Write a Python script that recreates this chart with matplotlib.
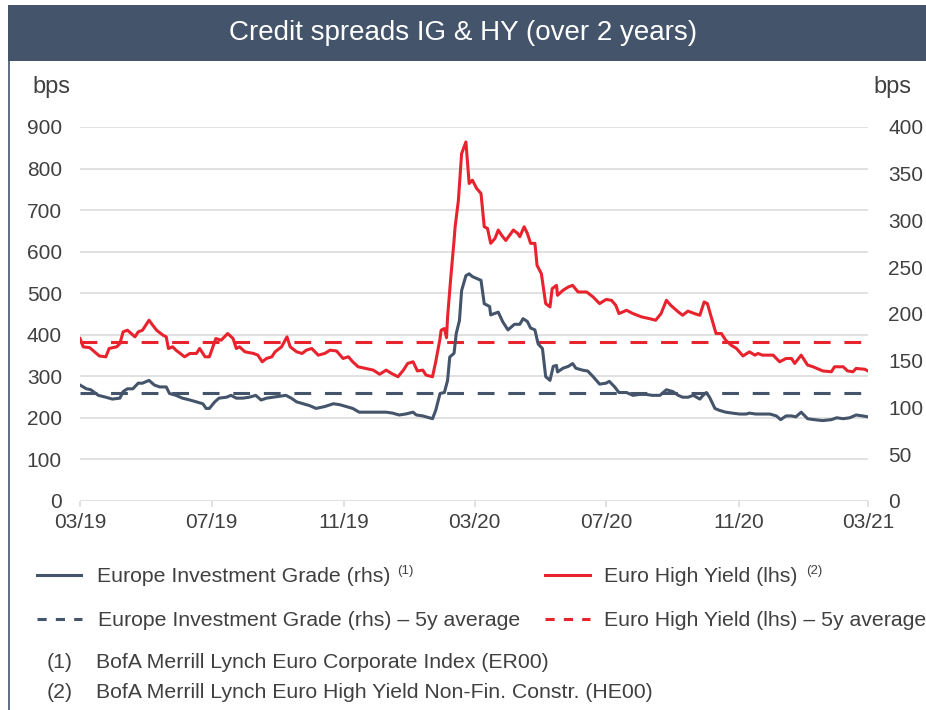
import matplotlib
matplotlib.use("Agg")
import matplotlib.pyplot as plt
from matplotlib.lines import Line2D
from matplotlib.patches import Rectangle
import pandas as pd

# ---------------- data ----------------
hy_dates = ["2019-03-01","2019-03-04","2019-03-10","2019-03-19","2019-03-25","2019-03-28","2019-04-04","2019-04-07",
            "2019-04-10","2019-04-14","2019-04-21","2019-04-24","2019-04-28","2019-05-04","2019-05-11","2019-05-17",
            "2019-05-20","2019-05-22","2019-05-26","2019-05-29","2019-06-06","2019-06-11","2019-06-17","2019-06-20",
            "2019-06-25","2019-06-29","2019-07-05","2019-07-10","2019-07-16","2019-07-21","2019-07-24","2019-07-27",
            "2019-08-01","2019-08-09","2019-08-13","2019-08-17","2019-08-21","2019-08-26","2019-08-29","2019-09-04",
            "2019-09-09","2019-09-12","2019-09-18","2019-09-23","2019-09-27","2019-10-02","2019-10-08","2019-10-14",
            "2019-10-19","2019-10-25","2019-10-31","2019-11-05","2019-11-09","2019-11-14","2019-11-21","2019-11-28",
            "2019-12-04","2019-12-10","2019-12-15","2019-12-21","2019-12-26","2019-12-30","2020-01-04","2020-01-08",
            "2020-01-13","2020-01-16","2020-01-22","2020-01-25","2020-01-29","2020-01-30","2020-02-02","2020-02-04",
            "2020-02-05","2020-02-08","2020-02-11","2020-02-12","2020-02-15","2020-02-18","2020-02-22","2020-02-25",
            "2020-02-28","2020-03-03","2020-03-07","2020-03-10","2020-03-13","2020-03-16","2020-03-20","2020-03-23",
            "2020-03-26","2020-03-30","2020-04-06","2020-04-10","2020-04-12","2020-04-16","2020-04-19","2020-04-22",
            "2020-04-26","2020-04-28","2020-05-02","2020-05-06","2020-05-10","2020-05-12","2020-05-16","2020-05-17",
            "2020-05-22","2020-05-27","2020-05-31","2020-06-05","2020-06-13","2020-06-19","2020-06-25","2020-07-01",
            "2020-07-06","2020-07-10","2020-07-13","2020-07-20","2020-07-26","2020-08-03","2020-08-10","2020-08-16",
            "2020-08-21","2020-08-26","2020-08-30","2020-09-06","2020-09-10","2020-09-15","2020-09-21","2020-09-26",
            "2020-09-30","2020-10-03","2020-10-07","2020-10-11","2020-10-16","2020-10-20","2020-10-25","2020-10-30",
            "2020-11-05","2020-11-11","2020-11-16","2020-11-19","2020-11-23","2020-12-03","2020-12-09","2020-12-15",
            "2020-12-20","2020-12-23","2020-12-29","2021-01-04","2021-01-09","2021-01-18","2021-01-26","2021-01-29",
            "2021-02-06","2021-02-10","2021-02-15","2021-02-18","2021-02-26","2021-03-01"]
hy_values = [391,371,369,349,347,367,371,379,
             407,411,395,407,411,435,411,399,
             395,367,371,363,347,355,355,367,
             347,347,391,387,403,391,367,371,
             359,355,351,335,343,347,359,371,
             395,371,359,355,363,367,351,355,
             363,361,343,347,335,323,319,315,
             305,315,307,299,315,331,335,313,
             315,303,299,335,391,411,415,393,
             443,539,627,660,723,836,864,764,
             772,752,740,660,656,620,632,652,
             640,627,652,644,636,660,644,620,
             620,567,547,475,467,511,519,495,
             507,515,519,503,503,491,475,485,
             483,471,451,459,451,443,439,435,
             451,483,471,455,447,457,451,447,
             479,475,439,403,403,387,375,367,
             349,359,351,355,351,351,335,343,
             343,331,351,327,323,313,311,323,
             323,313,311,319,317,313]

ig_dates = ["2019-03-01","2019-03-07","2019-03-11","2019-03-18","2019-03-25","2019-03-31","2019-04-07","2019-04-10",
            "2019-04-14","2019-04-19","2019-04-24","2019-04-28","2019-05-04","2019-05-09","2019-05-14","2019-05-20",
            "2019-05-23","2019-05-29","2019-06-04","2019-06-11","2019-06-17","2019-06-23","2019-06-26","2019-06-29",
            "2019-07-04","2019-07-08","2019-07-15","2019-07-19","2019-07-24","2019-07-30","2019-08-05","2019-08-11",
            "2019-08-16","2019-08-21","2019-08-27","2019-09-02","2019-09-08","2019-09-13","2019-09-18","2019-09-24",
            "2019-09-30","2019-10-06","2019-10-14","2019-10-22","2019-10-28","2019-11-03","2019-11-09","2019-11-15",
            "2019-11-21","2019-11-28","2019-12-04","2019-12-10","2019-12-16","2019-12-22","2019-12-28","2020-01-04",
            "2020-01-07","2020-01-13","2020-01-22","2020-01-25","2020-01-29","2020-02-02","2020-02-05","2020-02-07",
            "2020-02-11","2020-02-13","2020-02-16","2020-02-18","2020-02-22","2020-02-25","2020-02-28","2020-03-07",
            "2020-03-10","2020-03-15","2020-03-16","2020-03-23","2020-03-27","2020-04-01","2020-04-07","2020-04-12",
            "2020-04-15","2020-04-19","2020-04-22","2020-04-26","2020-04-29","2020-05-03","2020-05-06","2020-05-10",
            "2020-05-13","2020-05-16","2020-05-17","2020-05-22","2020-05-27","2020-05-31","2020-06-03","2020-06-09",
            "2020-06-14","2020-06-19","2020-06-25","2020-07-01","2020-07-04","2020-07-09","2020-07-13","2020-07-20",
            "2020-07-26","2020-08-01","2020-08-07","2020-08-13","2020-08-20","2020-08-26","2020-09-01","2020-09-06",
            "2020-09-10","2020-09-15","2020-09-20","2020-09-26","2020-09-29","2020-10-02","2020-10-05","2020-10-10",
            "2020-10-14","2020-10-20","2020-10-26","2020-11-02","2020-11-08","2020-11-11","2020-11-17","2020-11-23",
            "2020-11-30","2020-12-06","2020-12-10","2020-12-15","2020-12-20","2020-12-24","2020-12-29","2021-01-04",
            "2021-01-10","2021-01-18","2021-01-26","2021-01-31","2021-02-06","2021-02-12","2021-02-18","2021-02-24",
            "2021-03-01"]
ig_values = [124,120,119,113,111,109,110,117,
             120,120,126,126,129,124,122,122,
             115,113,110,108,106,104,99,99,
             106,110,111,113,110,110,111,113,
             108,110,111,112,113,110,106,104,
             102,99,101,104,103,101,99,95,
             95,95,95,95,94,92,93,95,
             92,91,88,97,115,116,129,154,
             158,179,193,225,241,243,240,236,
             211,208,199,202,192,183,189,189,
             195,192,185,183,168,163,133,129,
             144,145,138,142,144,147,142,140,
             139,133,125,126,128,122,116,116,
             113,114,114,113,113,119,117,113,
             111,111,113,109,113,116,111,99,
             97,95,94,93,93,94,93,93,
             93,91,87,91,91,90,95,88,
             87,86,87,89,88,89,92,91,
             90]

hy_avg = 382   # Euro High Yield 5y average (lhs)
ig_avg = 115   # Europe IG 5y average (rhs)

tick_dates = ["2019-03-01","2019-07-01","2019-11-01","2020-03-01","2020-07-01","2020-11-01","2021-03-01"]
tick_labels = ["03/19","07/19","11/19","03/20","07/20","11/20","03/21"]
left_ticks = [0,100,200,300,400,500,600,700,800,900]
right_ticks = [0,50,100,150,200,250,300,350,400]

title = "Credit spreads IG & HY (over 2 years)"
leg_ig = "Europe Investment Grade (rhs)"
leg_hy = "Euro High Yield (lhs)"
leg_ig_avg = "Europe Investment Grade (rhs) \u2013 5y average"
leg_hy_avg = "Euro High Yield (lhs) \u2013 5y average"
notes = ["BofA Merrill Lynch Euro Corporate Index (ER00)",
         "BofA Merrill Lynch Euro High Yield Non-Fin. Constr. (HE00)"]

# ---------------- style ----------------
RED = "#E8232E"
BLUE = "#44546A"
BAR = "#44546A"
GRID = "#D9D9D9"
TXT = "#404040"
plt.rcParams["font.family"] = ["Liberation Sans", "DejaVu Sans"]

W, H = 926, 710
fig = plt.figure(figsize=(W / 100, H / 100), dpi=100)

def fx(px):
    return px / W

def fy(py):
    return 1 - py / H

# title bar
fig.add_artist(Rectangle((fx(8), fy(61)), fx(W) - fx(8), fy(5) - fy(61),
                         transform=fig.transFigure, color=BAR, lw=0))
fig.text(0.5, fy(33), title, color="white", fontsize=20, ha="center", va="center")
# left frame line
fig.add_artist(Line2D([fx(8.5), fx(8.5)], [fy(61), fy(H)], color=BAR, lw=1.2))

ax = fig.add_axes([fx(80), fy(501), fx(868) - fx(80), fy(127) - fy(501)])
ax2 = ax.twinx()

hx = pd.to_datetime(hy_dates)
ix = pd.to_datetime(ig_dates)
x0, x1 = pd.Timestamp("2019-03-01"), pd.Timestamp("2021-03-01")

LW = 2.2
ax.plot(hx, hy_values, color=RED, lw=LW, solid_joinstyle="round", zorder=3)
ax.axhline(hy_avg, color=RED, lw=LW, dashes=(5.5, 4.5), zorder=2)
ax2.plot(ix, ig_values, color=BLUE, lw=LW, solid_joinstyle="round", zorder=3)
ax2.axhline(ig_avg, color=BLUE, lw=LW, dashes=(5.5, 4.5), zorder=2)

ax.set_xlim(x0, x1)
ax.set_ylim(0, 900)
ax2.set_ylim(0, 400)
ax.set_yticks(left_ticks)
ax2.set_yticks(right_ticks)
ax.set_xticks(pd.to_datetime(tick_dates))
ax.set_xticklabels(tick_labels)

ax.grid(axis="y", color=GRID, lw=1.1)
ax.set_axisbelow(True)
for a in (ax, ax2):
    for s in a.spines.values():
        s.set_visible(False)
ax.tick_params(axis="y", length=0, pad=13, labelsize=15, labelcolor=TXT)
ax2.tick_params(axis="y", length=0, pad=14.5, labelsize=15, labelcolor=TXT)
ax.tick_params(axis="x", length=4, width=1.1, color=GRID, pad=5, labelsize=15, labelcolor=TXT)

fig.text(fx(32), fy(87), "bps", fontsize=17, color=TXT, ha="left", va="center")
fig.text(fx(873), fy(87), "bps", fontsize=17, color=TXT, ha="left", va="center")

# legend
FS = 15.35

def leg_line(xa, xb, y, color, dashed):
    ln = Line2D([fx(xa), fx(xb)], [fy(y), fy(y)], color=color, lw=LW)
    if dashed:
        ln.set_dashes((3.0, 3.0))
    fig.add_artist(ln)

leg_line(37, 81, 575, BLUE, False)
fig.text(fx(97), fy(576), leg_ig, fontsize=FS, color=TXT, ha="left", va="center")
fig.text(fx(397), fy(571), "(1)", fontsize=9.5, color=TXT, ha="left", va="center")
leg_line(545, 590, 575, RED, False)
fig.text(fx(604), fy(576), leg_hy, fontsize=FS, color=TXT, ha="left", va="center")
fig.text(fx(806), fy(571), "(2)", fontsize=9.5, color=TXT, ha="left", va="center")

leg_line(37, 82, 619, BLUE, True)
fig.text(fx(98), fy(620), leg_ig_avg, fontsize=FS, color=TXT, ha="left", va="center")
leg_line(545, 590, 619, RED, True)
fig.text(fx(604), fy(620), leg_hy_avg, fontsize=FS, color=TXT, ha="left", va="center")

fig.text(fx(47), fy(662), "(1)", fontsize=FS, color=TXT, ha="left", va="center")
fig.text(fx(96), fy(662), notes[0], fontsize=FS, color=TXT, ha="left", va="center")
fig.text(fx(47), fy(692), "(2)", fontsize=FS, color=TXT, ha="left", va="center")
fig.text(fx(96), fy(692), notes[1], fontsize=FS, color=TXT, ha="left", va="center")

fig.savefig("out.png", dpi=100)
